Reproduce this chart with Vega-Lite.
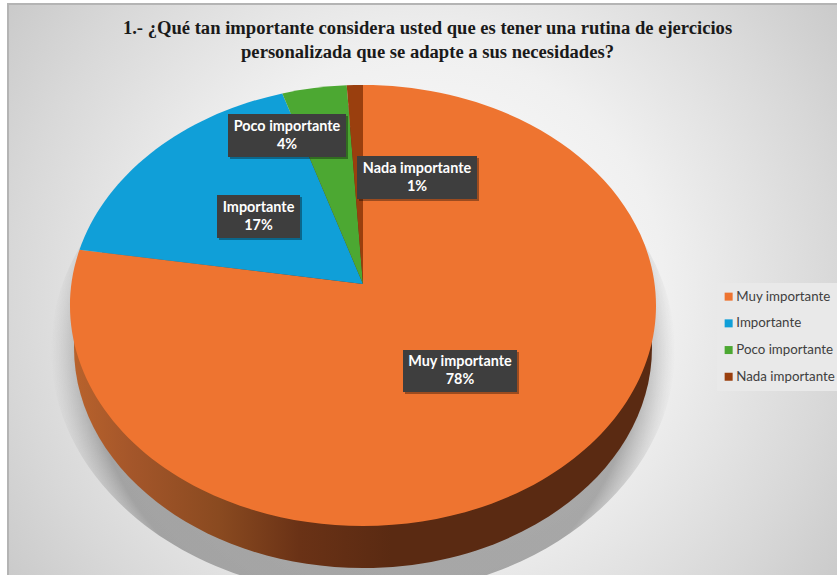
{
"$schema":"https://vega.github.io/schema/vega-lite/v6.json",
"width":833,"height":575,
"autosize":{"type":"none"},
"padding":{"left":8,"top":4,"right":0,"bottom":0},
"background":"#ffffff",
"view":{"stroke":"#b4b4b4","strokeWidth":2,"fill":{"gradient":"radial","x1":0.5,"y1":0.5,"r1":0,"x2":0.5,"y2":0.5,"r2":0.72,"stops":[{"offset":0,"color":"#ffffff"},{"offset":0.4,"color":"#f0f0f0"},{"offset":0.69,"color":"#d8d8d8"},{"offset":1,"color":"#bcbcbc"}]}},
"title":{"text":["1.- ¿Qué tan importante considera usted que es tener una rutina de ejercicios","personalizada que se adapte a sus necesidades?"],"anchor":"middle","dx":3,"offset":-58,"font":"Liberation Serif","fontSize":18.6,"fontWeight":"bold","color":"#1a1a1a","lineHeight":24},
"data":{"values":[
{"category":"Muy importante","value":0.78},
{"category":"Importante","value":0.17},
{"category":"Poco importante","value":0.04},
{"category":"Nada importante","value":0.01}
]},
"layer":[
{"transform":[{"filter":"datum.category==='Muy importante'"}],
 "mark":{"type":"point","filled":true,"size":4,"strokeWidth":0,"opacity":1,"shape":"M-373.5 58.5A312 245 0 1 1 250.5 58.5A312 245 0 1 1 -373.5 58.5Z",
 "fill":{"gradient":"radial","x1":0.5,"y1":0.5,"r1":0,"x2":0.5,"y2":0.5,"r2":0.5,"stops":[{"offset":0,"color":"rgba(130,130,130,0.65)"},{"offset":0.88,"color":"rgba(130,130,130,0.65)"},{"offset":0.94,"color":"rgba(150,150,150,0.35)"},{"offset":1,"color":"rgba(170,170,170,0)"}]}},
 "encoding":{}},
{"transform":[{"filter":"datum.category==='Muy importante'"}],
 "mark":{"type":"point","filled":true,"size":4,"strokeWidth":0,"opacity":1,"shape":"M-350.5 56A289 220.5 0 1 1 227.5 56A289 220.5 0 1 1 -350.5 56Z",
 "fill":{"gradient":"linear","x1":0,"y1":0,"x2":1,"y2":0,"stops":[{"offset":0,"color":"#b8622c"},{"offset":0.1,"color":"#a4562a"},{"offset":0.25,"color":"#8a4a20"},{"offset":0.39,"color":"#6a3216"},{"offset":0.55,"color":"#5a2a12"},{"offset":1,"color":"#5a2a12"}]}},
 "encoding":{}},
{"mark":{"type":"point","filled":true,"size":4,"strokeWidth":0,"opacity":1},
 "encoding":{
  "color":{"field":"category","type":"nominal","sort":null,"title":null,
   "scale":{"domain":["Muy importante","Importante","Poco importante","Nada importante"],"range":["#EE7430","#109FD8","#4CA832","#9A3F0E"]},
   "legend":{"orient":"none","legendX":709,"legendY":279,"padding":7,"fillColor":"#e9e9e9","symbolType":"square","symbolSize":64,"symbolStrokeWidth":0,"symbolOffset":-2,"labelFont":"Lato","labelFontSize":13.3,"labelColor":"#404040","rowPadding":12.7,"labelOffset":1,"labelLimit":120}},
  "shape":{"field":"category","type":"nominal","legend":null,
   "scale":{"domain":["Muy importante","Importante","Poco importante","Nada importante"],
   "range":["M-61.5 -7.5L-61.5 -206.5A293 220.5 0 1 1 -345 -41.7Z","M-61.5 -7.5L-345 -41.7A293 220.5 0 0 1 -142.2 -198.1Z","M-61.5 -7.5L-142.2 -198.1A293 220.5 0 0 1 -77.8 -206.2Z","M-61.5 -7.5L-77.8 -206.2A293 220.5 0 0 1 -61.5 -206.5Z"]}}}},
{"mark":{"type":"point","filled":true,"size":4,"strokeWidth":0,"opacity":0.35,"fill":"#000000"},
 "encoding":{
  "shape":{"field":"category","type":"nominal","legend":null,
   "scale":{"domain":["Muy importante","Importante","Poco importante","Nada importante"],
   "range":["M-19.5 60.5H94.5V102.5H-19.5Z","M-205.5 -94.5H-122.5V-51.5H-205.5Z","M-194.5 -175.5H-76.5V-132.5H-194.5Z","M-65.5 -133.5H54.5V-90.5H-65.5Z"]}}}},
{"mark":{"type":"point","filled":true,"size":4,"strokeWidth":0,"opacity":1,"fill":"#3e3e3e"},
 "encoding":{
  "shape":{"field":"category","type":"nominal","legend":null,
   "scale":{"domain":["Muy importante","Importante","Poco importante","Nada importante"],
   "range":["M-21.5 58.5H92.5V100.5H-21.5Z","M-207.5 -96.5H-124.5V-53.5H-207.5Z","M-196.5 -177.5H-78.5V-134.5H-196.5Z","M-67.5 -135.5H52.5V-92.5H-67.5Z"]}}}},
{"transform":[{"filter":"datum.category==='Muy importante'"}],"mark":{"type":"text","font":"Lato","fontWeight":"bold","fontSize":14.4,"color":"#ffffff","dx":35.5,"dy":70.5},"encoding":{"text":{"field":"category","type":"nominal"}}},
{"transform":[{"filter":"datum.category==='Muy importante'"}],"mark":{"type":"text","font":"Lato","fontWeight":"bold","fontSize":14.4,"color":"#ffffff","dx":35.5,"dy":88.5},"encoding":{"text":{"field":"value","type":"quantitative","format":".0%"}}},
{"transform":[{"filter":"datum.category==='Importante'"}],"mark":{"type":"text","font":"Lato","fontWeight":"bold","fontSize":14.4,"color":"#ffffff","dx":-166,"dy":-84},"encoding":{"text":{"field":"category","type":"nominal"}}},
{"transform":[{"filter":"datum.category==='Importante'"}],"mark":{"type":"text","font":"Lato","fontWeight":"bold","fontSize":14.4,"color":"#ffffff","dx":-166,"dy":-66},"encoding":{"text":{"field":"value","type":"quantitative","format":".0%"}}},
{"transform":[{"filter":"datum.category==='Poco importante'"}],"mark":{"type":"text","font":"Lato","fontWeight":"bold","fontSize":14.4,"color":"#ffffff","dx":-137.5,"dy":-165},"encoding":{"text":{"field":"category","type":"nominal"}}},
{"transform":[{"filter":"datum.category==='Poco importante'"}],"mark":{"type":"text","font":"Lato","fontWeight":"bold","fontSize":14.4,"color":"#ffffff","dx":-137.5,"dy":-147},"encoding":{"text":{"field":"value","type":"quantitative","format":".0%"}}},
{"transform":[{"filter":"datum.category==='Nada importante'"}],"mark":{"type":"text","font":"Lato","fontWeight":"bold","fontSize":14.4,"color":"#ffffff","dx":-7.5,"dy":-123},"encoding":{"text":{"field":"category","type":"nominal"}}},
{"transform":[{"filter":"datum.category==='Nada importante'"}],"mark":{"type":"text","font":"Lato","fontWeight":"bold","fontSize":14.4,"color":"#ffffff","dx":-7.5,"dy":-105},"encoding":{"text":{"field":"value","type":"quantitative","format":".0%"}}}
],
"resolve":{"scale":{"shape":"independent"}}
}
